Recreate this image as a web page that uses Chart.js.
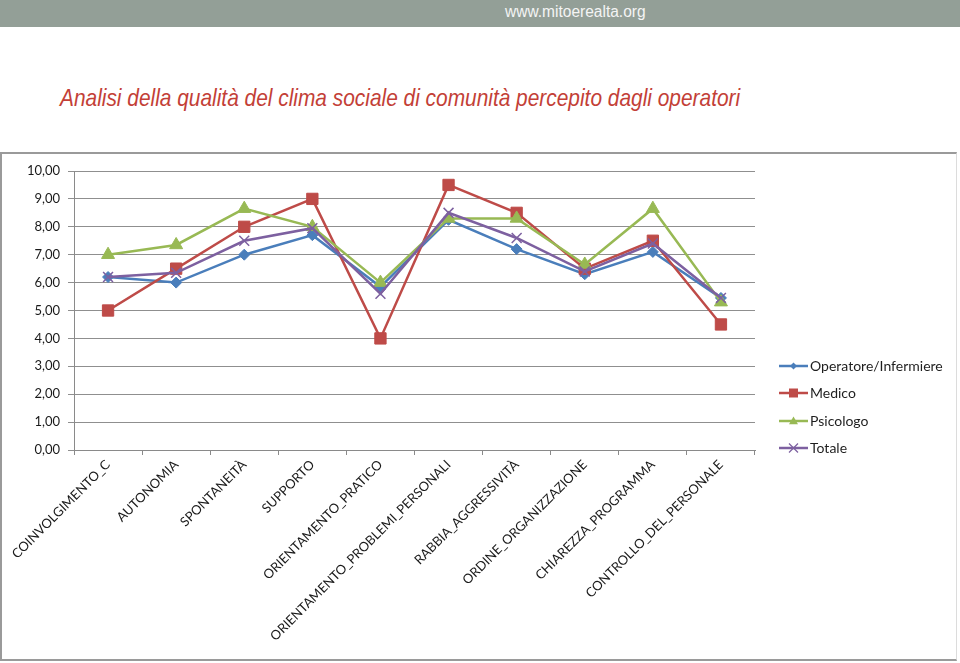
<!DOCTYPE html>
<html>
<head>
<meta charset="utf-8">
<script src="https://cdn.jsdelivr.net/npm/chart.js@4.4.1/dist/chart.umd.min.js"></script>
<style>
  html, body { margin:0; padding:0; background:#ffffff; width:960px; height:663px; overflow:hidden; }
  #topbar { position:absolute; left:0; top:0; width:960px; height:27px; background:#939f97; }
  #site { position:absolute; left:505px; top:3px; font-family:"Liberation Sans",Arial,sans-serif; font-size:16px; color:#f4f4f4; white-space:nowrap; transform:scaleX(0.97); transform-origin:left center; }
  #title { position:absolute; left:60px; top:84px; font-family:"Liberation Sans",Arial,sans-serif; font-style:italic; font-size:24px; color:#c33f37; white-space:nowrap; transform:scaleX(0.87); transform-origin:left center; }
  #frame { position:absolute; left:0; top:152px; width:954px; height:505px; border-left:2px solid #9a9a9a; border-top:2px solid #9a9a9a; border-bottom:2px solid #9a9a9a; border-right:1px solid #dcdcdc; background:#fff; }
  canvas { display:block; }
</style>
</head>
<body>
<div id="topbar"><span id="site">www.mitoerealta.org</span></div>
<div id="title">Analisi della qualità del clima sociale di comunità percepito dagli operatori</div>
<div id="frame"><canvas id="c" width="954" height="505"></canvas></div>
<script>
const categories = ["COINVOLGIMENTO_C","AUTONOMIA","SPONTANEITÀ","SUPPORTO","ORIENTAMENTO_PRATICO","ORIENTAMENTO_PROBLEMI_PERSONALI","RABBIA_AGGRESSIVITÀ","ORDINE_ORGANIZZAZIONE","CHIAREZZA_PROGRAMMA","CONTROLLO_DEL_PERSONALE"];
const operatore = [6.2, 6.0, 7.0, 7.7, 5.85, 8.25, 7.2, 6.3, 7.1, 5.45];
const medico    = [5.0, 6.5, 8.0, 9.0, 4.0, 9.5, 8.5, 6.5, 7.5, 4.5];
const psicologo = [7.0, 7.35, 8.65, 8.0, 6.0, 8.3, 8.3, 6.65, 8.65, 5.3];
const totale    = [6.2, 6.35, 7.5, 7.95, 5.6, 8.5, 7.6, 6.4, 7.4, 5.45];
const seriesNames = ["Operatore/Infermiere","Medico","Psicologo","Totale"];
const yTicks = [0,1,2,3,4,5,6,7,8,9,10];

const colors = ["#4a7ebb","#be4b48","#98b954","#7d60a0"];
const styles = ["rectRot","rect","triangle","crossRot"];
const radii = [5.5, 8, 7.5, 7];

const datasets = [operatore, medico, psicologo, totale].map((d, i) => ({
  label: seriesNames[i],
  data: d,
  borderColor: colors[i],
  backgroundColor: colors[i],
  borderWidth: 2.5,
  pointStyle: styles[i],
  pointRadius: radii[i],
  pointBorderWidth: i === 3 ? 1.5 : 1,
  pointBackgroundColor: colors[i],
  pointBorderColor: colors[i],
  tension: 0,
  order: 4 - i
}));

function drawMarker(ctx, style, x, y, r, color) {
  ctx.save();
  ctx.fillStyle = color; ctx.strokeStyle = color; ctx.lineWidth = 1.2;
  ctx.beginPath();
  if (style === "rectRot") {
    ctx.moveTo(x, y - r); ctx.lineTo(x + r, y); ctx.lineTo(x, y + r); ctx.lineTo(x - r, y); ctx.closePath(); ctx.fill();
  } else if (style === "rect") {
    ctx.rect(x - r, y - r, 2 * r, 2 * r); ctx.fill();
  } else if (style === "triangle") {
    ctx.moveTo(x, y - r); ctx.lineTo(x + r, y + r * 0.7); ctx.lineTo(x - r, y + r * 0.7); ctx.closePath(); ctx.fill();
  } else {
    ctx.moveTo(x - r, y - r); ctx.lineTo(x + r, y + r); ctx.moveTo(x + r, y - r); ctx.lineTo(x - r, y + r); ctx.stroke();
  }
  ctx.restore();
}

const legendPlugin = {
  id: "sideLegend",
  afterDraw(chart) {
    const ctx = chart.ctx;
    const ys = [212, 239, 267, 294];
    const sizes = [3.5, 4.5, 4.5, 4.5];
    seriesNames.forEach((name, i) => {
      const y = ys[i];
      ctx.save();
      ctx.strokeStyle = colors[i]; ctx.lineWidth = 2.5;
      ctx.beginPath(); ctx.moveTo(777, y); ctx.lineTo(806, y); ctx.stroke();
      ctx.restore();
      drawMarker(ctx, styles[i], 791.5, y, sizes[i], colors[i]);
      ctx.save();
      ctx.fillStyle = "#1e1e1e";
      ctx.font = "14px Lato";
      ctx.textBaseline = "middle";
      ctx.textAlign = "left";
      ctx.fillText(name, 808, y);
      ctx.restore();
    });
  }
};

new Chart(document.getElementById("c"), {
  type: "line",
  data: { labels: categories, datasets: datasets },
  options: {
    responsive: false,
    devicePixelRatio: 1,
    animation: false,
    layout: { padding: { left: 0, top: 17, right: 201, bottom: 0 } },
    plugins: { legend: { display: false }, tooltip: { enabled: false }, title: { display: false } },
    scales: {
      x: {
        type: "category",
        offset: true,
        afterFit(s) { s.height = 209; },
        grid: { offset: true, drawOnChartArea: false, drawTicks: true, tickLength: 5, color: "#8a8a8a" },
        border: { display: true, color: "#8a8a8a", width: 1 },
        ticks: { minRotation: 45, maxRotation: 45, autoSkip: false, padding: 2, color: "#1a1a1a", font: { family: "Lato", size: 13 } }
      },
      y: {
        min: 0, max: 10,
        afterFit(s) { s.width = 72; },
        afterBuildTicks(s) { s.ticks = yTicks.map(v => ({ value: v })); },
        grid: { color: "#8f8f8f", lineWidth: 1, tickLength: 6, drawTicks: true },
        border: { display: true, color: "#8a8a8a", width: 1 },
        ticks: { padding: 8, color: "#1a1a1a", font: { family: "Lato", size: 13 },
          callback: v => v.toFixed(2).replace(".", ",") }
      }
    }
  },
  plugins: [legendPlugin]
});
</script>
</body>
</html>
